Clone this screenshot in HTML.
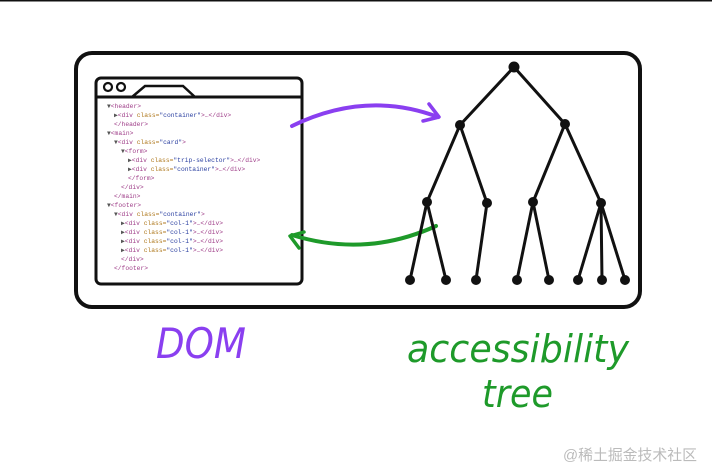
<!DOCTYPE html>
<html><head><meta charset="utf-8"><style>
html,body{margin:0;padding:0;background:#fff;width:712px;height:474px;overflow:hidden}
svg{display:block}
.c{font-family:"Liberation Mono",monospace;font-size:6.3px}
</style></head><body>
<svg width="712" height="474" viewBox="0 0 712 474" xmlns="http://www.w3.org/2000/svg">
<rect x="0" y="0" width="712" height="1.5" fill="#111"/>
<rect x="76" y="53" width="564" height="254" rx="16" fill="none" stroke="#111" stroke-width="4"/>
<rect x="96" y="78" width="206" height="206" rx="5" fill="#fff" stroke="#111" stroke-width="3"/>
<line x1="96" y1="97" x2="302" y2="97" stroke="#111" stroke-width="3"/>
<circle cx="108" cy="87" r="4" fill="none" stroke="#111" stroke-width="2.2"/>
<circle cx="121" cy="87" r="4" fill="none" stroke="#111" stroke-width="2.2"/>
<path d="M132 97 L145 86 L183 86 L195 97" fill="none" stroke="#111" stroke-width="2.5"/>
<g class="c">
<text x="107" y="108"><tspan fill="#555">▼</tspan><tspan fill="#a0408a">&lt;header&gt;</tspan></text>
<text x="114" y="117"><tspan fill="#555">▶</tspan><tspan fill="#a0408a">&lt;div </tspan><tspan fill="#b07a20">class=</tspan><tspan fill="#2a3fa0">"container"</tspan><tspan fill="#a0408a">&gt;…&lt;/div&gt;</tspan></text>
<text x="114" y="126" fill="#a0408a">&lt;/header&gt;</text>
<text x="107" y="135"><tspan fill="#555">▼</tspan><tspan fill="#a0408a">&lt;main&gt;</tspan></text>
<text x="114" y="144"><tspan fill="#555">▼</tspan><tspan fill="#a0408a">&lt;div </tspan><tspan fill="#b07a20">class=</tspan><tspan fill="#2a3fa0">"card"</tspan><tspan fill="#a0408a">&gt;</tspan></text>
<text x="121" y="153"><tspan fill="#555">▼</tspan><tspan fill="#a0408a">&lt;form&gt;</tspan></text>
<text x="128" y="162"><tspan fill="#555">▶</tspan><tspan fill="#a0408a">&lt;div </tspan><tspan fill="#b07a20">class=</tspan><tspan fill="#2a3fa0">"trip-selector"</tspan><tspan fill="#a0408a">&gt;…&lt;/div&gt;</tspan></text>
<text x="128" y="171"><tspan fill="#555">▶</tspan><tspan fill="#a0408a">&lt;div </tspan><tspan fill="#b07a20">class=</tspan><tspan fill="#2a3fa0">"container"</tspan><tspan fill="#a0408a">&gt;…&lt;/div&gt;</tspan></text>
<text x="128" y="180" fill="#a0408a">&lt;/form&gt;</text>
<text x="121" y="189" fill="#a0408a">&lt;/div&gt;</text>
<text x="114" y="198" fill="#a0408a">&lt;/main&gt;</text>
<text x="107" y="207"><tspan fill="#555">▼</tspan><tspan fill="#a0408a">&lt;footer&gt;</tspan></text>
<text x="114" y="216"><tspan fill="#555">▼</tspan><tspan fill="#a0408a">&lt;div </tspan><tspan fill="#b07a20">class=</tspan><tspan fill="#2a3fa0">"container"</tspan><tspan fill="#a0408a">&gt;</tspan></text>
<text x="121" y="225"><tspan fill="#555">▶</tspan><tspan fill="#a0408a">&lt;div </tspan><tspan fill="#b07a20">class=</tspan><tspan fill="#2a3fa0">"col-1"</tspan><tspan fill="#a0408a">&gt;…&lt;/div&gt;</tspan></text>
<text x="121" y="234"><tspan fill="#555">▶</tspan><tspan fill="#a0408a">&lt;div </tspan><tspan fill="#b07a20">class=</tspan><tspan fill="#2a3fa0">"col-1"</tspan><tspan fill="#a0408a">&gt;…&lt;/div&gt;</tspan></text>
<text x="121" y="243"><tspan fill="#555">▶</tspan><tspan fill="#a0408a">&lt;div </tspan><tspan fill="#b07a20">class=</tspan><tspan fill="#2a3fa0">"col-1"</tspan><tspan fill="#a0408a">&gt;…&lt;/div&gt;</tspan></text>
<text x="121" y="252"><tspan fill="#555">▶</tspan><tspan fill="#a0408a">&lt;div </tspan><tspan fill="#b07a20">class=</tspan><tspan fill="#2a3fa0">"col-1"</tspan><tspan fill="#a0408a">&gt;…&lt;/div&gt;</tspan></text>
<text x="121" y="261" fill="#a0408a">&lt;/div&gt;</text>
<text x="114" y="270" fill="#a0408a">&lt;/footer&gt;</text>
</g>
<path d="M292 126 Q366 90 438 117" fill="none" stroke="#8a3ff0" stroke-width="4" stroke-linecap="round"/>
<path d="M429 104 L439 117 L423 121" fill="none" stroke="#8a3ff0" stroke-width="3.5" stroke-linecap="round" stroke-linejoin="round"/>
<path d="M436 226 Q366 258 292 235" fill="none" stroke="#1e9a2a" stroke-width="4" stroke-linecap="round"/>
<path d="M304 232 L290 236 L299 248" fill="none" stroke="#1e9a2a" stroke-width="3.5" stroke-linecap="round" stroke-linejoin="round"/>
<g stroke="#111" stroke-width="3" stroke-linecap="round">
<line x1="514" y1="67" x2="460" y2="125"/><line x1="514" y1="67" x2="565" y2="124"/>
<line x1="460" y1="125" x2="427" y2="202"/><line x1="460" y1="125" x2="487" y2="203"/>
<line x1="565" y1="124" x2="533" y2="202"/><line x1="565" y1="124" x2="601" y2="203"/>
<line x1="427" y1="202" x2="410" y2="280"/><line x1="427" y1="202" x2="446" y2="280"/>
<line x1="487" y1="203" x2="476" y2="280"/>
<line x1="533" y1="202" x2="517" y2="280"/><line x1="533" y1="202" x2="549" y2="280"/>
<line x1="601" y1="203" x2="578" y2="280"/><line x1="601" y1="203" x2="602" y2="280"/><line x1="601" y1="203" x2="625" y2="280"/>
</g>
<g fill="#111">
<circle cx="514" cy="67" r="5.5"/><circle cx="460" cy="125" r="5"/><circle cx="565" cy="124" r="5"/>
<circle cx="427" cy="202" r="5"/><circle cx="487" cy="203" r="5"/><circle cx="533" cy="202" r="5"/><circle cx="601" cy="203" r="5"/>
<circle cx="410" cy="280" r="5"/><circle cx="446" cy="280" r="5"/><circle cx="476" cy="280" r="5"/><circle cx="517" cy="280" r="5"/><circle cx="549" cy="280" r="5"/><circle cx="578" cy="280" r="5"/><circle cx="602" cy="280" r="5"/><circle cx="625" cy="280" r="5"/>
</g>
<text x="156" y="358" font-family="'DejaVu Sans',sans-serif" font-style="oblique" font-size="42" fill="#8a3ff0" textLength="90" lengthAdjust="spacingAndGlyphs">DOM</text>
<text x="407" y="362" font-family="'DejaVu Sans',sans-serif" font-style="oblique" font-size="38" fill="#1e9a2a" textLength="222" lengthAdjust="spacingAndGlyphs">accessibility</text>
<text x="482" y="407" font-family="'DejaVu Sans',sans-serif" font-style="oblique" font-size="38" fill="#1e9a2a" textLength="71" lengthAdjust="spacingAndGlyphs">tree</text>
<text x="563" y="460" font-family="'Liberation Sans','Noto Sans CJK SC',sans-serif" font-size="15" fill="#bbb" textLength="134" lengthAdjust="spacingAndGlyphs">@稀土掘金技术社区</text>
</svg>
</body></html>
